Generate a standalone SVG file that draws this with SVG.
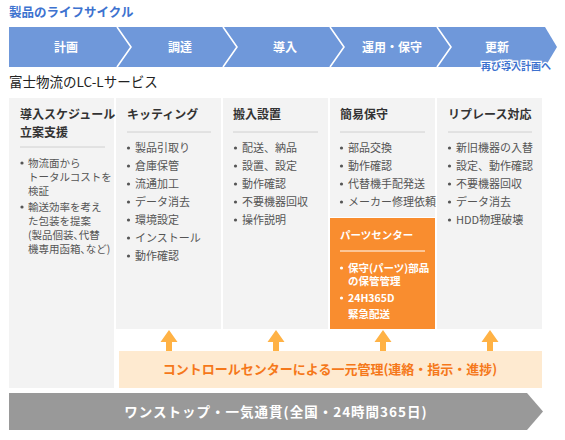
<svg xmlns="http://www.w3.org/2000/svg" width="565" height="440" viewBox="0 0 565 440">
<style>
text{font-family:"Noto Sans CJK JP","Noto Sans",sans-serif;}
.title{font-size:12.5px;font-weight:bold;fill:#3d72cf;}
.sub{font-size:13.5px;fill:#222;}
.stage{font-size:12px;font-weight:bold;fill:#fff;text-anchor:middle;}
.col{fill:#f3f3f3;}
.hd{font-size:12px;font-weight:bold;fill:#333;}
.it{font-size:11px;fill:#555;}
.it1{font-size:10.5px;fill:#555;}
.dot{fill:#555;}
.div{stroke:#d0d0d0;stroke-width:1;}
.wt{font-size:10.5px;fill:#fff;font-weight:bold;}
.arr{fill:#ffb245;}
</style>
<text class="title" x="9" y="17">製品のライフサイクル</text>
<g id="lifecycle">
<polygon points="9,27 545,27 557,47 545,67 9,67" fill="#6f98da"/>
<g fill="none" stroke="#fff" stroke-width="1.6">
<polyline points="117,27 131,47 117,67"/>
<polyline points="223,27 237,47 223,67"/>
<polyline points="330,27 344,47 330,67"/>
<polyline points="437,27 451,47 437,67"/>
</g>
<text class="stage" x="66" y="52">計画</text>
<text class="stage" x="180" y="52">調達</text>
<text class="stage" x="285" y="52">導入</text>
<text class="stage" x="392" y="52">運用・保守</text>
<text class="stage" x="497" y="52">更新</text>
<text x="516" y="70" text-anchor="middle" font-size="10" font-weight="bold" fill="#3d72cf" stroke="#fff" stroke-width="2.5" paint-order="stroke">再び導入計画へ</text>
</g>
<text class="sub" x="9" y="87">富士物流のLC-Lサービス</text>
<g id="col1">
<rect class="col" x="9" y="98" width="105" height="290"/>
<text class="hd" x="20" y="119">導入スケジュール</text>
<text class="hd" x="20" y="137">立案支援</text>
<line class="div" x1="20" y1="147" x2="105" y2="147"/>
<circle class="dot" cx="22" cy="163" r="1.6"/>
<text class="it1" x="28" y="167">物流面から</text>
<text class="it1" x="28" y="181">トータルコストを</text>
<text class="it1" x="28" y="195">検証</text>
<circle class="dot" cx="22" cy="207" r="1.6"/>
<text class="it1" x="28" y="211">輸送効率を考え</text>
<text class="it1" x="28" y="225">た包装を提案</text>
<text class="it1" x="28" y="239">(製品個装､代替</text>
<text class="it1" x="28" y="253">機専用函箱､など)</text>
</g>
<g id="col2">
<rect class="col" x="116" y="98" width="105" height="231"/>
<text class="hd" x="127" y="119">キッティング</text>
<line class="div" x1="127" y1="132" x2="211" y2="132"/>
<circle class="dot" cx="128.5" cy="148" r="1.6"/><text class="it" x="135" y="152">製品引取り</text>
<circle class="dot" cx="128.5" cy="166" r="1.6"/><text class="it" x="135" y="170">倉庫保管</text>
<circle class="dot" cx="128.5" cy="184" r="1.6"/><text class="it" x="135" y="188">流通加工</text>
<circle class="dot" cx="128.5" cy="202" r="1.6"/><text class="it" x="135" y="206">データ消去</text>
<circle class="dot" cx="128.5" cy="220" r="1.6"/><text class="it" x="135" y="224">環境設定</text>
<circle class="dot" cx="128.5" cy="238" r="1.6"/><text class="it" x="135" y="242">インストール</text>
<circle class="dot" cx="128.5" cy="256" r="1.6"/><text class="it" x="135" y="260">動作確認</text>
</g>
<g id="col3">
<rect class="col" x="223" y="98" width="105" height="231"/>
<text class="hd" x="233" y="119">搬入設置</text>
<line class="div" x1="233" y1="132" x2="318" y2="132"/>
<circle class="dot" cx="235.5" cy="148" r="1.6"/><text class="it" x="242" y="152">配送、納品</text>
<circle class="dot" cx="235.5" cy="166" r="1.6"/><text class="it" x="242" y="170">設置、設定</text>
<circle class="dot" cx="235.5" cy="184" r="1.6"/><text class="it" x="242" y="188">動作確認</text>
<circle class="dot" cx="235.5" cy="202" r="1.6"/><text class="it" x="242" y="206">不要機器回収</text>
<circle class="dot" cx="235.5" cy="220" r="1.6"/><text class="it" x="242" y="224">操作説明</text>
</g>
<g id="col4">
<rect class="col" x="330" y="98" width="105" height="119"/>
<text class="hd" x="340" y="119">簡易保守</text>
<line class="div" x1="340" y1="132" x2="425" y2="132"/>
<circle class="dot" cx="341.5" cy="148" r="1.6"/><text class="it" x="348" y="152">部品交換</text>
<circle class="dot" cx="341.5" cy="166" r="1.6"/><text class="it" x="348" y="170">動作確認</text>
<circle class="dot" cx="341.5" cy="184" r="1.6"/><text class="it" x="348" y="188">代替機手配発送</text>
<circle class="dot" cx="341.5" cy="202" r="1.6"/><text class="it" x="348" y="206">メーカー修理依頼</text>
</g>
<g id="parts-center">
<rect x="330" y="218" width="105" height="111" fill="#f98d2f"/>
<text class="wt" x="340" y="239" font-size="12">パーツセンター</text>
<line x1="340" y1="251" x2="425" y2="251" stroke="#fff" stroke-width="1"/>
<circle cx="341.5" cy="268" r="1.6" fill="#fff"/>
<text class="wt" x="348" y="272">保守(パーツ)部品</text>
<text class="wt" x="348" y="285">の保管管理</text>
<circle cx="341.5" cy="298" r="1.6" fill="#fff"/>
<text class="wt" x="348" y="302">24H365D</text>
<text class="wt" x="348" y="318">緊急配送</text>
</g>
<g id="col5">
<rect class="col" x="437" y="98" width="105" height="231"/>
<text class="hd" x="448" y="119">リプレース対応</text>
<line class="div" x1="448" y1="132" x2="532" y2="132"/>
<circle class="dot" cx="449.5" cy="148" r="1.6"/><text class="it" x="456" y="152">新旧機器の入替</text>
<circle class="dot" cx="449.5" cy="166" r="1.6"/><text class="it" x="456" y="170">設定、動作確認</text>
<circle class="dot" cx="449.5" cy="184" r="1.6"/><text class="it" x="456" y="188">不要機器回収</text>
<circle class="dot" cx="449.5" cy="202" r="1.6"/><text class="it" x="456" y="206">データ消去</text>
<circle class="dot" cx="449.5" cy="220" r="1.6"/><text class="it" x="456" y="224">HDD物理破壊</text>
</g>
<g id="connectors">
<polygon class="arr" points="169,330 177.5,342 172,342 172,351 166,351 166,342 160.5,342"/>
<polygon class="arr" points="276,330 284.5,342 279,342 279,351 273,351 273,342 267.5,342"/>
<polygon class="arr" points="383,330 391.5,342 386,342 386,351 380,351 380,342 374.5,342"/>
<polygon class="arr" points="490,330 498.5,342 493,342 493,351 487,351 487,342 481.5,342"/>
</g>
<g id="control-center">
<rect x="119" y="351" width="423" height="37" fill="#feead0"/>
<text x="330" y="374" text-anchor="middle" font-size="13" font-weight="bold" fill="#f5781a">コントロールセンターによる一元管理(連絡・指示・進捗)</text>
</g>
<g id="onestop">
<polygon points="9,393 527,393 543,411.5 527,430 9,430" fill="#999"/>
<text x="276" y="416.5" text-anchor="middle" font-size="13.5" font-weight="bold" letter-spacing="1" fill="#fff">ワンストップ・一気通貫(全国・24時間365日)</text>
</g>
</svg>
